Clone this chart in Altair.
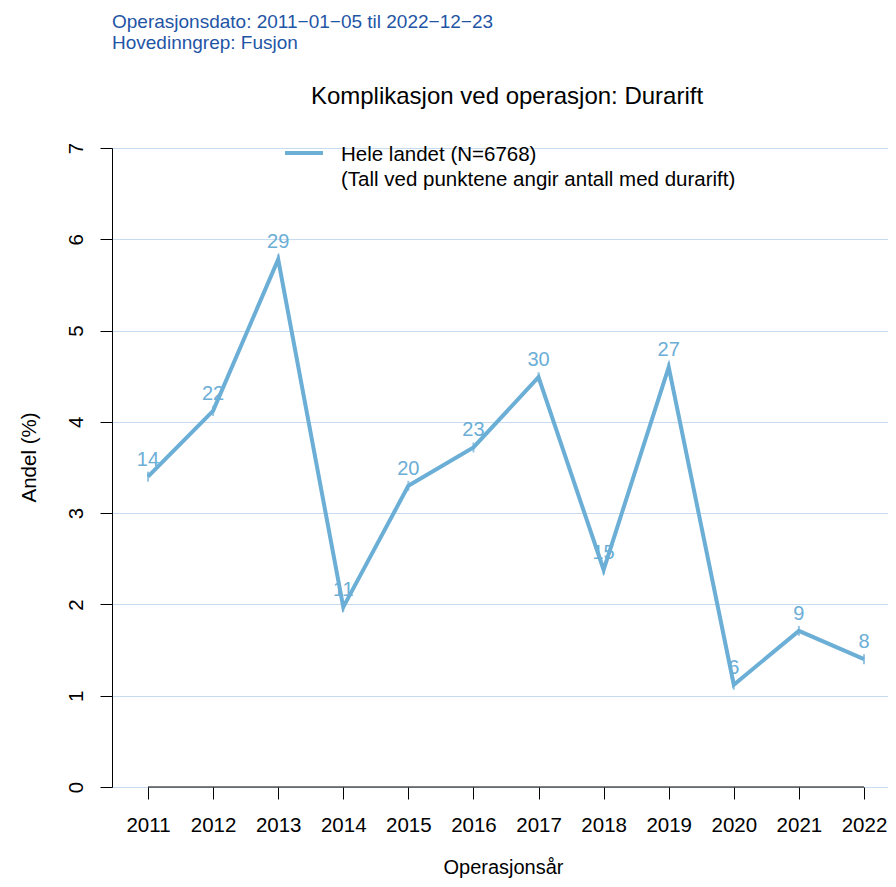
import altair as alt
import pandas as pd

years = [2011, 2012, 2013, 2014, 2015, 2016, 2017, 2018, 2019, 2020, 2021, 2022]
andel = [3.40, 4.12, 5.78, 1.97, 3.30, 3.72, 4.49, 2.38, 4.60, 1.12, 1.71, 1.40]
antall = [14, 22, 29, 11, 20, 23, 30, 15, 27, 6, 9, 8]
y_ticks = [0, 1, 2, 3, 4, 5, 6, 7]

title_text = "Komplikasjon ved operasjon: Durarift"
info_lines = ["Operasjonsdato: 2011\u221201\u221205 til 2022\u221212\u221223", "Hovedinngrep: Fusjon"]
legend_lines = ["Hele landet (N=6768)", "(Tall ved punktene angir antall med durarift)"]

FONT = "Liberation Sans"
LINE = "#6baed6"
GRID = "#c6dbef"
INFO = "#1f55a5"

W, H = 776, 639
PAD_L, PAD_T, PAD_B = 104, 140, 92

df = pd.DataFrame({"aar": years, "andel": andel, "antall": antall})

xscale = alt.Scale(domain=[2010.447, 2022.369], nice=False, zero=False)
yscale = alt.Scale(domain=[0, 7], nice=False)

base = alt.Chart(df)

line = base.mark_line(color=LINE, strokeWidth=4).encode(
    x=alt.X("aar:Q", scale=xscale,
            axis=alt.Axis(values=years, format="d", domain=False, grid=False,
                          tickSize=12, tickColor="black", tickWidth=1,
                          labelFontSize=20.5, labelFont=FONT, labelColor="black",
                          labelBaseline="alphabetic", labelPadding=32, labelFlush=False,
                          title="Operasjonsår", titleFont=FONT, titleFontSize=20,
                          titleFontWeight="normal", titleColor="black",
                          titleX=W / 2 + 3, titleY=86, titleAlign="center",
                          titleBaseline="alphabetic")),
    y=alt.Y("andel:Q", scale=yscale,
            axis=alt.Axis(values=y_ticks, format="d", domain=True, domainColor="black",
                          domainWidth=1, grid=True, gridColor=GRID, gridWidth=1,
                          tickSize=12, tickColor="black", tickWidth=1,
                          labelFontSize=20.5, labelFont=FONT, labelColor="black",
                          labelAngle=270, labelAlign="center", labelBaseline="alphabetic",
                          labelPadding=18,
                          title="Andel (%)", titleFont=FONT, titleFontSize=20.5,
                          titleFontWeight="normal", titleColor="black",
                          titleAngle=270, titleX=-77, titleY=309,
                          titleAlign="center", titleBaseline="alphabetic")),
)

ticks = base.mark_tick(color=LINE, orient="vertical", size=10, thickness=2).encode(
    x="aar:Q", y="andel:Q")

labels = base.mark_text(color=LINE, fontSize=20, font=FONT, dy=-17,
                        baseline="middle", align="center").encode(
    x="aar:Q", y="andel:Q", text="antall:Q")

xaxis_df = pd.DataFrame({"x1": [years[0]], "x2": [years[-1]], "y": [0]})
xaxis_line = alt.Chart(xaxis_df).mark_rule(color="black", strokeWidth=1).encode(
    x="x1:Q", x2="x2:Q", y="y:Q")

title = alt.Chart(pd.DataFrame({"t": [title_text]})).mark_text(
    fontSize=24, font=FONT, color="black", align="center", baseline="middle").encode(
    text="t:N", x=alt.value(395), y=alt.value(-51))

info1 = alt.Chart(pd.DataFrame({"t": [info_lines[0]]})).mark_text(
    fontSize=19, font=FONT, color=INFO, align="left", baseline="middle").encode(
    text="t:N", x=alt.value(0), y=alt.value(-126))
info2 = alt.Chart(pd.DataFrame({"t": [info_lines[1]]})).mark_text(
    fontSize=19, font=FONT, color=INFO, align="left", baseline="middle").encode(
    text="t:N", x=alt.value(0), y=alt.value(-105))

leg_line = alt.Chart(pd.DataFrame({"a": [1]})).mark_rule(color=LINE, strokeWidth=4).encode(
    x=alt.value(173), x2=alt.value(211), y=alt.value(5))
leg_t1 = alt.Chart(pd.DataFrame({"t": [legend_lines[0]]})).mark_text(
    fontSize=20.5, font=FONT, color="black", align="left", baseline="middle").encode(
    text="t:N", x=alt.value(229), y=alt.value(7))
leg_t2 = alt.Chart(pd.DataFrame({"t": [legend_lines[1]]})).mark_text(
    fontSize=20.5, font=FONT, color="black", align="left", baseline="middle").encode(
    text="t:N", x=alt.value(229), y=alt.value(32))

chart = alt.layer(line, xaxis_line, ticks, labels, title, info1, info2,
                  leg_line, leg_t1, leg_t2).properties(
    width=W, height=H,
    autosize=alt.AutoSizeParams(type="none"),
    padding={"left": PAD_L, "top": PAD_T, "right": 0, "bottom": PAD_B},
).configure_view(stroke=None).configure(background="white")

chart.save("out.html", embed_options={"renderer": "svg", "actions": False})
